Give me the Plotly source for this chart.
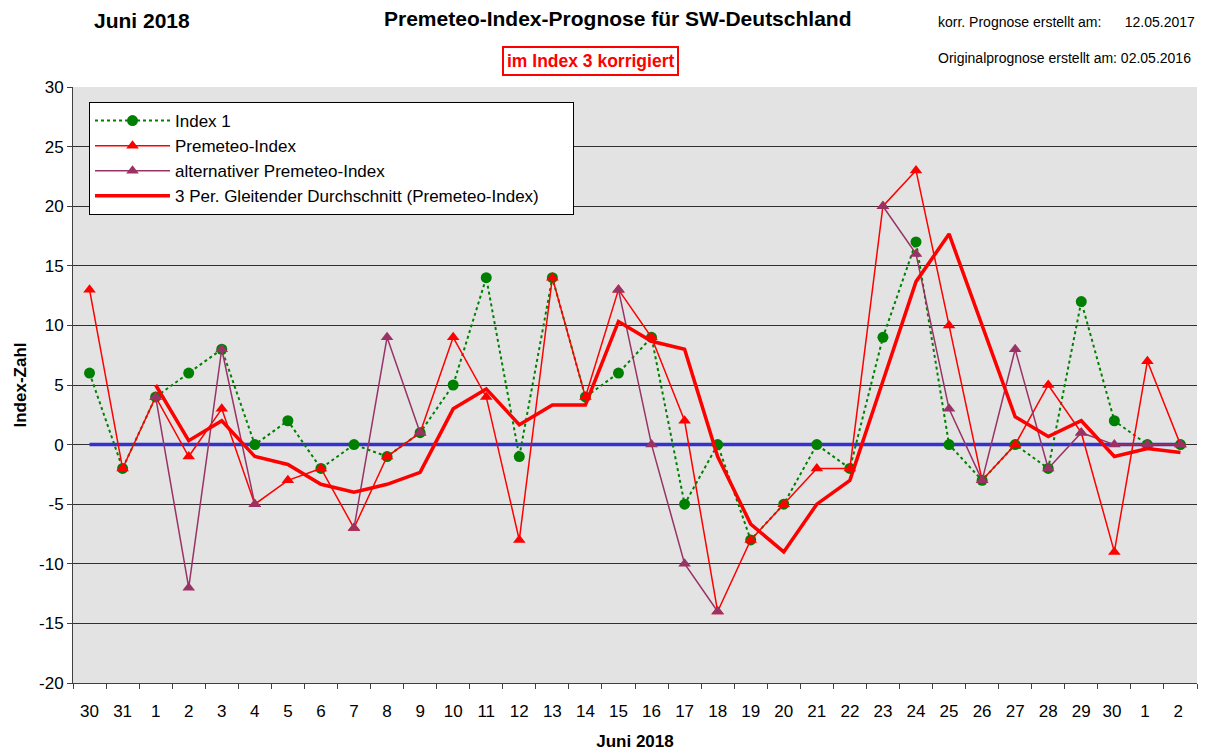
import plotly.graph_objects as go

categories = ["30", "31", "1", "2", "3", "4", "5", "6", "7", "8", "9", "10", "11", "12",
              "13", "14", "15", "16", "17", "18", "19", "20", "21", "22", "23", "24",
              "25", "26", "27", "28", "29", "30 ", "1 ", "2 "]

index1 = [6, -2, 4, 6, 8, 0, 2, -2, 0, -1, 1, 5, 14, -1, 14, 4, 6, 9, -5, 0,
          -8, -5, 0, -2, 9, 17, 0, -3, 0, -2, 12, 2, 0, 0]

premeteo = [13, -2, 4, -1, 3, -5, -3, -2, -7, -1, 1, 9, 4, -8, 14, 4, 13, 9, 2, -14,
            -8, -5, -2, -2, 20, 23, 10, -3, 0, 5, 1, -9, 7, 0]

alternativ = [None, None, 4, -12, 8, -5, None, None, -7, 9, 1, None, None, None, None, None,
              13, 0, -10, -14, None, None, None, None, 20, 16, 3, -3, 8, -2, 1, 0, 0, 0]

gleitend = [None, None, 5, 0.33, 2, -1, -1.67, -3.33, -4, -3.33, -2.33, 3, 4.67, 1.67,
            3.33, 3.33, 10.33, 8.67, 8, -1, -6.67, -9, -5, -3, 5.33, 13.67, 17.67, 10,
            2.33, 0.67, 2, -1, -0.33, -0.67]

nulllinie = [0] * len(categories)

y_tick_values = [-20, -15, -10, -5, 0, 5, 10, 15, 20, 25, 30]
y_tick_labels = ["-20", "-15", "-10", "-5", "0", "5", "10", "15", "20", "25", "30"]

FONT = "Liberation Sans, Arial, sans-serif"

fig = go.Figure()
fig.add_trace(go.Scatter(x=categories, y=nulllinie, mode="lines", showlegend=False,
                         line=dict(color="#3333CC", width=3.5), hoverinfo="skip"))
fig.add_trace(go.Scatter(x=categories, y=index1, mode="lines+markers", name="Index 1",
                         line=dict(color="#008000", width=2, dash="dot"),
                         marker=dict(symbol="circle", size=11, color="#008000")))
fig.add_trace(go.Scatter(x=categories, y=premeteo, mode="lines+markers", name="Premeteo-Index",
                         line=dict(color="#FF0000", width=1.5),
                         marker=dict(symbol="triangle-up", size=11, color="#FF0000")))
fig.add_trace(go.Scatter(x=categories, y=alternativ, mode="lines+markers",
                         name="alternativer Premeteo-Index", connectgaps=False,
                         line=dict(color="#993366", width=1.5),
                         marker=dict(symbol="triangle-up", size=11, color="#993366")))
fig.add_trace(go.Scatter(x=categories, y=gleitend, mode="lines",
                         name="3 Per. Gleitender Durchschnitt (Premeteo-Index)" + "\u00a0" * 6,
                         line=dict(color="#FF0000", width=3.5)))

fig.update_layout(
    width=1207, height=751,
    margin=dict(l=73, r=10, t=87, b=68),
    paper_bgcolor="white",
    plot_bgcolor="#E3E3E3",
    font=dict(family=FONT, size=17, color="black"),
    showlegend=True,
    legend=dict(x=(89 - 73) / 1124, y=(683 - 102) / 596, xanchor="left", yanchor="top",
                bgcolor="white", bordercolor="black", borderwidth=1,
                font=dict(family=FONT, size=17, color="black"),
                tracegroupgap=0, itemwidth=75),
    xaxis=dict(type="category", categoryorder="array", categoryarray=categories,
               range=[-0.5, len(categories) - 0.5], automargin=False,
               showgrid=False, showline=True, linecolor="#404040", linewidth=1,
               ticks="outside", tickson="boundaries", ticklen=5, tickcolor="#404040",
               tickfont=dict(size=17, family=FONT), zeroline=False, ticklabelstandoff=13,
               title=dict(text="<b>Juni 2018</b>", font=dict(size=17, family=FONT), standoff=14)),
    yaxis=dict(range=[-20, 30], tickmode="array", tickvals=y_tick_values, ticktext=y_tick_labels,
               automargin=False,
               showgrid=True, gridcolor="#303030", gridwidth=1, zeroline=False,
               showline=True, linecolor="#404040", linewidth=1,
               ticks="outside", ticklen=5, tickcolor="#404040",
               tickfont=dict(size=17, family=FONT),
               title=dict(text="<b>Index-Zahl</b>", font=dict(size=17, family=FONT), standoff=8)),
)

fig.add_annotation(text="<b>Juni 2018</b>", xref="paper", yref="paper",
                   x=(142 - 73) / 1124, y=(683 - 20) / 596, showarrow=False,
                   font=dict(size=21, family=FONT), xanchor="center", yanchor="middle")
fig.add_annotation(text="<b>Premeteo-Index-Prognose für SW-Deutschland</b>", xref="paper", yref="paper",
                   x=(617 - 73) / 1124, y=(683 - 18) / 596, showarrow=False,
                   font=dict(size=21, family=FONT), xanchor="center", yanchor="middle")
fig.add_annotation(text="<b>im Index 3 korrigiert</b>", xref="paper", yref="paper",
                   x=(590 - 73) / 1124, y=(683 - 61) / 596, showarrow=False,
                   font=dict(size=17.5, family=FONT, color="#FF0000"), xanchor="center", yanchor="middle",
                   bordercolor="#FF0000", borderwidth=2, borderpad=3, bgcolor="white")
fig.add_annotation(text="korr. Prognose erstellt am:      12.05.2017", xref="paper", yref="paper",
                   x=(936 - 73) / 1124, y=(683 - 22) / 596, showarrow=False,
                   font=dict(size=14, family=FONT), xanchor="left", yanchor="middle")
fig.add_annotation(text="Originalprognose erstellt am: 02.05.2016", xref="paper", yref="paper",
                   x=(936 - 73) / 1124, y=(683 - 58) / 596, showarrow=False,
                   font=dict(size=14, family=FONT), xanchor="left", yanchor="middle")

fig.write_html("out.html", config={"displayModeBar": False},
               post_script="document.body.style.margin='0';")
